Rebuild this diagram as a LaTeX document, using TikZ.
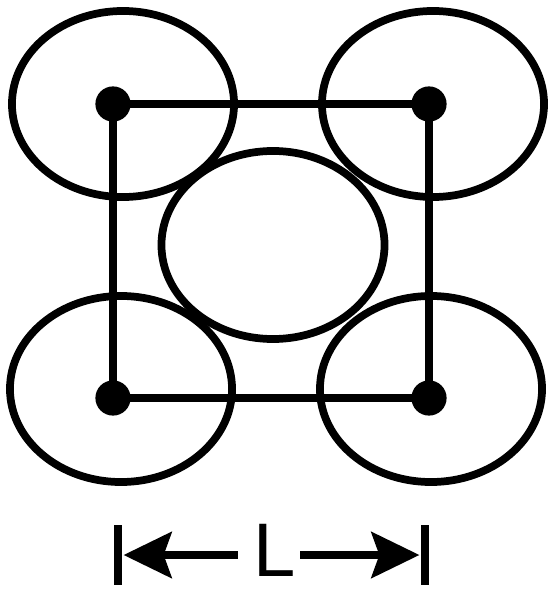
\documentclass[tikz,border=0pt]{standalone}
\usepackage{fontspec}
\setmainfont{Liberation Sans}
\usetikzlibrary{arrows.meta,positioning,shapes.geometric}

\begin{document}
\begin{tikzpicture}[x=0.025cm,y=-0.025cm,
    every node/.style={inner sep=0pt,outer sep=0pt},
    site/.style={circle,fill=black,minimum size=0.88cm},
    blob/.style={ellipse,draw,line width=5.5pt,minimum width=5.55cm,minimum height=4.65cm},
    bigblob/.style={blob,minimum width=5.575cm,minimum height=4.7cm},
    bond/.style={line width=5.8pt},
    dimline/.style={line width=5pt,-{Stealth[length=1.2cm,width=1.15cm,inset=0.2cm]}},
    dimbar/.style={line width=5.8pt}
]
\useasboundingbox (0,0) rectangle (548,590);

\node[blob] (atl) at (123,104) {};
\node[blob] (atr) at (433,104) {};
\node[blob] (abl) at (121,389) {};
\node[blob] (abr) at (431,389) {};
\node[bigblob] (amid) at (273,245) {};

\node[site] (tl) at (113,104) {};
\node[site] (tr) at (429,104) {};
\node[site] (bl) at (113,398) {};
\node[site] (br) at (429,398) {};

\path[bond]
    (tl.center) edge (tr.center)
    (tr.center) edge (br.center)
    (br.center) edge (bl.center)
    (bl.center) edge (tl.center);

% dimension
\node (len) at (275,550) {\fontsize{54}{54}\selectfont L};
\coordinate (dimL) at (118,555);
\coordinate (dimR) at (425,555);
\draw[dimbar] (dimL) ++(0,-30) -- ++(0,60);
\draw[dimbar] (dimR) ++(0,-30) -- ++(0,60);
\draw[dimline] ([xshift=-0.4cm]len.west |- dimL) -- ([xshift=4]dimL);
\draw[dimline] ([xshift=0.1cm]len.east |- dimR) -- ([xshift=-4]dimR);
\end{tikzpicture}
\end{document}
